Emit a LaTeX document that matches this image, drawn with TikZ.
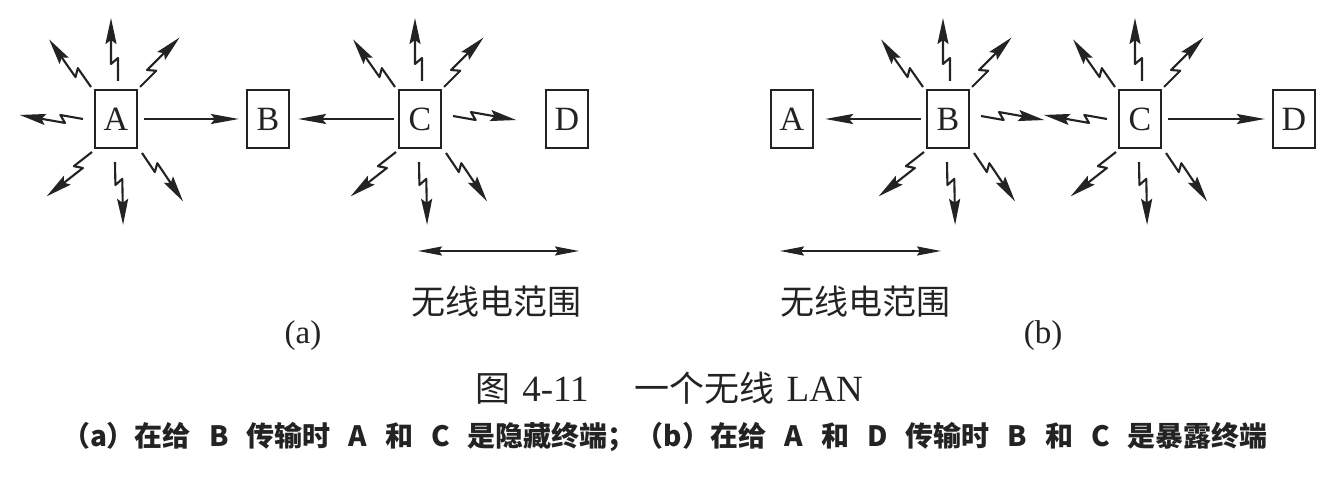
\documentclass[tikz,border=0pt]{standalone}
\usepackage{fontspec}
\setmainfont{Liberation Serif}
\newfontfamily\cjk{Noto Sans CJK SC}
\usetikzlibrary{arrows.meta,calc}
\definecolor{ink}{HTML}{232323}
\begin{document}
\begin{tikzpicture}[x=1pt,y=-1pt,color=ink,
  box/.style={draw=ink, line width=2.3pt, minimum width=42pt, minimum height=58pt, inner sep=0pt, font=\fontsize{34}{34}\selectfont, text=ink},
  sig/.style={line width=2.1pt, line join=round, -{Stealth[length=26pt,width=11pt,inset=4pt]}},
  direct/.style={line width=2pt, -{Stealth[length=28pt,width=10pt,inset=4pt]}},
  spanarrow/.style={line width=2pt, {Stealth[length=24pt,width=9pt,inset=3pt]}-{Stealth[length=24pt,width=9pt,inset=3pt]}},
  bolt/.pic={\draw[sig] (0,0) -- (23,0) -- (17,-7) -- (63,-7);},
  rangetext/.style={font=\cjk\fontsize{34}{34}\selectfont, inner sep=0pt},
  sublabel/.style={font=\fontsize{33}{33}\selectfont, inner sep=0pt}
]
\useasboundingbox (0,0) rectangle (1330,478);
\fill[white] (0,0) rectangle (1330,478);

% panel (a)
\node[box] (A) at (116,119) {A};
\node[box] (B) at (268,119) {B};
\node[box] (C) at (420,119) {C};
\node[box] (D) at (567,119) {D};
\draw[direct, shorten <=6pt, shorten >=7pt] (A) -- (B);
\draw[direct, shorten <=4pt, shorten >=8pt] (C) -- (B);

% panel (b)
\node[box] (A2) at (792,119) {A};
\node[box] (B2) at (948,119) {B};
\node[box] (C2) at (1140,119) {C};
\node[box] (D2) at (1294,119) {D};
\draw[direct, shorten <=5pt, shorten >=11pt] (B2) -- (A2);
\draw[direct, shorten <=6pt, shorten >=7pt] (C2) -- (D2);

% lightning bolts
\foreach \n in {A,C2}{
  \foreach \dx/\dy/\r in {2/-38/90, -25/-32/125, 24/-32/45, -33/0/170, -24/33/218, -1/43/271, 26/34/304}{
    \pic[rotate=\r] at ($(\n)+(\dx,\dy)$) {bolt};
  }
}
\foreach \n in {C,B2}{
  \foreach \dx/\dy/\r in {2/-38/90, -25/-32/125, 24/-32/45, 33/-3/350, -24/33/218, -1/43/271, 26/34/304}{
    \pic[rotate=\r] at ($(\n)+(\dx,\dy)$) {bolt};
  }
}

% radio range
\coordinate (ra1) at (418,251);
\coordinate (ra2) at (579,251);
\draw[spanarrow] (ra1) -- (ra2);
\node[rangetext] (rta) at (496,302) {无线电范围};
\coordinate (rb1) at (780,251);
\coordinate (rb2) at (941,251);
\draw[spanarrow] (rb1) -- (rb2);
\node[rangetext] (rtb) at (865,302) {无线电范围};

\node[sublabel] (la) at (303,336) {(a)};
\node[sublabel] (lb) at (1043,336) {(b)};

% caption
\node[inner sep=0pt, font=\fontsize{37}{37}\selectfont] (title) at (669,388)
  {{\cjk\fontsize{35}{35}\selectfont 图}\hspace{12pt}4-11\hspace{46pt}{\cjk\fontsize{35}{35}\selectfont 一个无线}\hspace{12pt}LAN};
\node[inner sep=0pt, font=\cjk\bfseries\fontsize{28}{28}\selectfont] (cap) at (665,437)
  {\makebox[1206pt][s]{（a）在给 B 传输时 A 和 C 是隐藏终端；（b）在给 A 和 D 传输时 B 和 C 是暴露终端}};
\end{tikzpicture}
\end{document}
